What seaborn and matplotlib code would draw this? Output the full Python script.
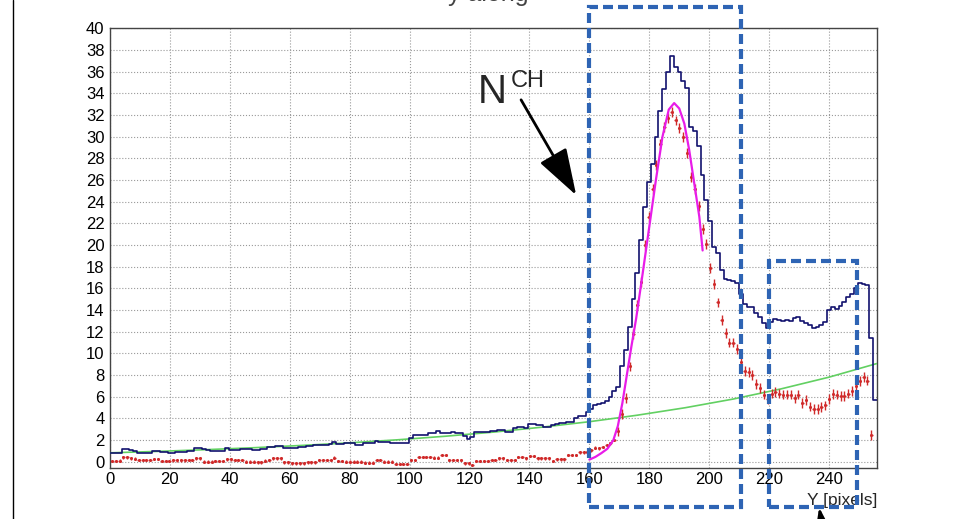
import numpy as np
import pandas as pd
import matplotlib
matplotlib.use("Agg")
import matplotlib.pyplot as plt
import seaborn as sns
from matplotlib.patches import Rectangle
from matplotlib.lines import Line2D
from matplotlib.ticker import MultipleLocator

# ---- data ----
n_bins = 200
x_range = (0, 256)

# raw projection (navy step histogram)
blue_counts = [
    0.83, 0.83, 0.83, 1.17, 1.17, 1.10, 1.00, 0.85, 0.83, 0.83,
    0.77, 1.00, 1.02, 0.93, 0.93, 0.83, 0.83, 0.90, 0.93, 0.93,
    1.02, 1.02, 1.23, 1.23, 1.14, 1.12, 0.99, 0.99, 1.00, 0.99,
    1.23, 1.08, 1.08, 1.10, 1.17, 1.17, 1.15, 1.08, 1.10, 1.17,
    1.17, 1.39, 1.39, 1.48, 1.45, 1.23, 1.23, 1.29, 1.29, 1.39,
    1.39, 1.48, 1.48, 1.54, 1.54, 1.54, 1.54, 1.60, 1.85, 1.60,
    1.60, 1.70, 1.70, 1.70, 1.54, 1.54, 1.70, 1.70, 1.75, 1.95,
    1.79, 1.79, 1.79, 1.75, 1.70, 1.70, 1.70, 1.70, 2.16, 2.46,
    2.46, 2.46, 2.46, 2.62, 2.62, 2.83, 2.62, 2.62, 2.70, 2.77,
    2.62, 2.62, 2.40, 2.06, 2.30, 2.71, 2.71, 2.71, 2.71, 2.83,
    2.83, 2.93, 2.93, 2.77, 2.77, 3.08, 3.23, 3.23, 3.08, 3.45,
    3.45, 3.35, 3.35, 3.17, 3.17, 3.40, 3.45, 3.54, 3.54, 3.69,
    3.69, 4.00, 4.25, 4.25, 4.62, 4.85, 5.25, 5.35, 5.45, 5.60,
    6.00, 6.50, 6.90, 8.80, 10.3, 12.4, 15.0, 17.4, 20.5, 23.5,
    25.8, 27.5, 30.0, 32.4, 34.4, 36.0, 37.4, 36.4, 36.0, 35.1,
    34.5, 30.9, 30.5, 29.1, 26.5, 24.2, 22.2, 19.8, 19.3, 17.7,
    16.9, 16.8, 16.7, 16.5, 15.5, 14.6, 14.3, 14.3, 13.7, 13.4,
    12.8, 12.3, 12.9, 13.2, 13.1, 13.0, 13.1, 13.0, 13.3, 13.4,
    13.0, 12.8, 12.6, 12.3, 12.4, 12.6, 12.9, 14.05, 14.3, 14.1,
    14.4, 14.7, 15.2, 15.5, 16.0, 16.5, 16.4, 16.3, 11.4, 5.7,
]

# background subtracted (red points)
red_counts = [
    0.06, 0.06, 0.10, 0.40, 0.40, 0.31, 0.30, 0.16, 0.16, 0.16,
    0.16, 0.25, 0.25, 0.06, 0.06, 0.06, 0.13, 0.13, 0.13, 0.13,
    0.16, 0.16, 0.31, 0.31, 0.00, 0.00, 0.00, 0.06, 0.06, 0.06,
    0.22, 0.22, 0.16, 0.16, 0.16, 0.00, 0.00, 0.00, -0.06, -0.06,
    0.10, 0.16, 0.31, 0.31, 0.31, -0.06, -0.06, -0.15, -0.15, -0.15,
    -0.15, -0.06, -0.06, -0.06, 0.16, 0.16, 0.16, 0.16, 0.37, 0.06,
    0.06, 0.00, 0.00, 0.00, 0.00, 0.00, -0.09, -0.09, -0.09, 0.15,
    0.15, 0.00, 0.00, 0.00, -0.20, -0.20, -0.20, -0.20, 0.15, 0.15,
    0.46, 0.46, 0.46, 0.46, 0.37, 0.37, 0.62, 0.62, 0.15, 0.15,
    0.15, 0.15, -0.15, -0.15, -0.31, 0.09, 0.09, 0.09, 0.09, 0.15,
    0.15, 0.31, 0.31, 0.15, 0.15, 0.15, 0.46, 0.46, 0.31, 0.55,
    0.55, 0.31, 0.31, 0.31, 0.31, 0.09, 0.22, 0.22, 0.22, 0.62,
    0.62, 0.62, 0.86, 0.86, 0.90, 1.05, 1.30, 1.25, 1.35, 1.55,
    1.70, 2.00, 2.80, 4.40, 5.90, 8.80, 11.8, 14.5, 16.6, 20.0,
    22.6, 25.2, 27.4, 29.3, 30.9, 31.7, 32.3, 31.5, 30.8, 30.0,
    28.5, 26.3, 25.2, 23.6, 21.5, 20.1, 17.9, 16.4, 14.7, 13.1,
    11.9, 11.0, 11.0, 10.4, 9.2, 8.4, 8.3, 8.0, 7.2, 6.8,
    6.2, 5.8, 6.3, 6.45, 6.3, 6.2, 6.2, 6.2, 5.85, 6.2,
    5.45, 5.7, 5.1, 4.85, 4.9, 5.05, 5.2, 5.8, 6.25, 6.2,
    6.1, 6.1, 6.3, 6.5, 7.0, 7.45, 7.85, 7.5, 2.45, -3.5,
]

# background fit (green)
bkg_x = [0, 16, 32, 48, 64, 80, 96, 112, 128, 144, 160, 176, 192, 208, 224, 240, 256]
bkg_y = [0.83, 0.96, 1.12, 1.30, 1.51, 1.75, 2.03, 2.36, 2.74, 3.19, 3.70, 4.30,
         4.99, 5.79, 6.73, 7.81, 9.07]

# peak fit (magenta)
sig_x = [160, 162, 164, 166, 168, 169.5, 171, 172.5, 174, 175.6, 177.8, 180,
         182.2, 184.4, 186.5, 188.3, 190, 191.7, 193.3, 195, 196.7, 197.8]
sig_y = [0.2, 0.45, 0.8, 1.2, 2.0, 3.3, 5.4, 8.0, 10.6, 13.2, 17.4, 21.7,
         26.0, 30.0, 32.5, 33.1, 32.6, 31.2, 28.8, 25.7, 22.6, 19.5]

# ---- style ----
sns.set_theme(style="white")
plt.rcParams["font.family"] = ["Liberation Sans", "DejaVu Sans"]

bin_w = (x_range[1] - x_range[0]) / n_bins
centers = x_range[0] + bin_w * (np.arange(n_bins) + 0.5)
hist_df = pd.DataFrame({"y_pix": centers, "counts": blue_counts})
red_arr = np.array(red_counts)
red_err = np.where(red_arr > 2, 0.45, 0.12)

fig = plt.figure(figsize=(9.71, 5.19), dpi=100)
ax = fig.add_axes([110 / 971, 1 - 468.3 / 519, 767 / 971, 440 / 519])

ax.grid(True, which="major", ls=":", color="#9a9a9a", lw=0.8)
ax.set_axisbelow(True)

sns.lineplot(x=bkg_x, y=bkg_y, ax=ax, color="#62d062", lw=1.2, zorder=3)
sns.histplot(data=hist_df, x="y_pix", weights="counts", binwidth=bin_w,
             binrange=x_range, element="step", fill=False, color="#12126e",
             lw=1.2, ax=ax, zorder=4)
ax.errorbar(centers, red_arr, yerr=red_err, xerr=0.45, fmt="o", ms=1.2,
            color="#d02a2a", elinewidth=1.0, capsize=0, zorder=5)
sns.lineplot(x=sig_x, y=sig_y, ax=ax, color="#e81ce8", lw=1.6, zorder=6)

ax.set_xlim(*x_range)
ax.set_ylim(-0.6, 40)
ax.set_xlabel("")
ax.set_ylabel("")

ax.xaxis.set_minor_locator(MultipleLocator(5))
ax.yaxis.set_major_locator(MultipleLocator(2))
ax.yaxis.set_minor_locator(MultipleLocator(0.4))
ax.set_xticks(np.arange(0, 241, 20))
ax.tick_params(axis="both", which="both", direction="in", color="#333333",
               labelsize=12, labelcolor="black", width=0.9)
ax.tick_params(axis="y", which="major", length=16, pad=4.0)
ax.tick_params(axis="y", which="minor", length=7.2)
ax.tick_params(axis="x", which="major", length=5.8, pad=2.5)
ax.tick_params(axis="x", which="minor", length=3.6)
for sp in ax.spines.values():
    sp.set_color("#444444")
    sp.set_linewidth(1.0)

ax.text(256, -3.95, "Y [pixels]", ha="right", va="baseline", fontsize=12.5)

# annotation boxes
box_kw = dict(fill=False, ec="#2e64b4", lw=3, ls=(0, (2.4, 1.2)), clip_on=False, zorder=8)
ax.add_patch(Rectangle((160, -4.15), 50.6, 46.15, **box_kw))
ax.add_patch(Rectangle((220, -4.15), 29.2, 22.7, **box_kw))

# N^CH arrow
ax.text(122.7, 33.1, "N", fontsize=29, ha="left", va="baseline")
ax.text(133.7, 34.6, "CH", fontsize=17, ha="left", va="baseline")
arrow_kw = dict(arrowstyle="-|>,head_length=2.9,head_width=0.95", mutation_scale=10,
                color="black", lw=2, shrinkA=0, shrinkB=0, clip_on=False)
ax.annotate("", xy=(155.6, 24.6), xytext=(137.2, 33.4), arrowprops=arrow_kw,
            annotation_clip=False)
ax.annotate("", xy=(236.7, -4.2), xytext=(241, -11.5), arrowprops=arrow_kw,
            annotation_clip=False)

# cut-off title (only its lowest edge shows) and window border
fig.text(448 / 971, 1 - 1 / 519, "y along", ha="left", va="baseline",
         fontsize=18, color="#444444")
fig.add_artist(Line2D([13 / 971, 13 / 971], [0, 1], transform=fig.transFigure,
                      color="black", lw=1))

fig.savefig("out.png", dpi=100)
